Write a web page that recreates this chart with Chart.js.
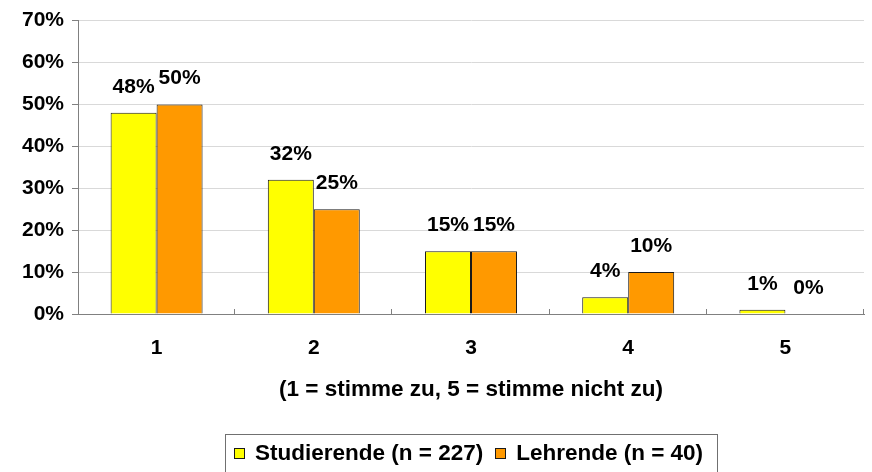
<!DOCTYPE html>
<html>
<head>
<meta charset="utf-8">
<script src="https://cdn.jsdelivr.net/npm/chart.js@4/dist/chart.umd.min.js"></script>
<style>
  html, body { margin: 0; padding: 0; background: #fff; }
  #wrap { width: 872px; height: 472px; position: relative; }
</style>
</head>
<body>
<div id="wrap"><canvas id="c"></canvas></div>
<script>
// Answers on a 1–5 agreement scale, share of respondents in percent
const categories = ['1', '2', '3', '4', '5'];
const studierende = [48, 32, 15, 4, 1];
const lehrende = [50, 25, 15, 10, 0];
const seriesNames = ['Studierende (n = 227)', 'Lehrende (n = 40)'];
const seriesColors = ['#FFFF00', '#FF9900'];
const yTicks = [0, 10, 20, 30, 40, 50, 60, 70];
const xTitle = '(1 = stimme zu, 5 = stimme nicht zu)';

const FONT = "'Liberation Sans', Arial, Helvetica, sans-serif";
const OUTLINE = '#1a1a1a';
Chart.defaults.font.family = FONT;
Chart.defaults.font.weight = 'bold';
Chart.defaults.color = '#000';

// Percent value above every bar
const valueLabels = {
  id: 'valueLabels',
  afterDatasetsDraw(chart) {
    const ctx = chart.ctx;
    ctx.save();
    ctx.font = `bold 21px ${FONT}`;
    ctx.fillStyle = '#000';
    ctx.textAlign = 'center';
    ctx.textBaseline = 'middle';
    chart.data.datasets.forEach((ds, i) => {
      chart.getDatasetMeta(i).data.forEach((bar, j) => {
        ctx.fillText(ds.data[j] + '%', bar.x, bar.y - 26);
      });
    });
    ctx.restore();
  }
};

// Short upward marks between the categories on the x axis
const categoryMarks = {
  id: 'categoryMarks',
  afterDraw(chart) {
    const x = chart.scales.x;
    const ctx = chart.ctx;
    const step = x.width / categories.length;
    ctx.save();
    ctx.strokeStyle = '#808080';
    ctx.lineWidth = 1;
    ctx.beginPath();
    for (let i = 1; i <= categories.length; i++) {
      const px = Math.round(x.left + i * step) - 0.5;
      ctx.moveTo(px, x.top);
      ctx.lineTo(px, x.top - 5);
    }
    ctx.stroke();
    ctx.restore();
  }
};

// Framed legend centred under the plot
const framedLegend = {
  id: 'framedLegend',
  afterDraw(chart) {
    const ctx = chart.ctx;
    const area = chart.chartArea;
    ctx.save();
    ctx.font = `bold 22.5px ${FONT}`;
    const box = 11, boxGap = 10, itemGap = 12;
    const widths = seriesNames.map(t => ctx.measureText(t).width);
    const total = widths.reduce((a, w) => a + box + boxGap + w, 0) + itemGap;
    const padL = 9, padR = 14;
    const frameW = Math.round(padL + total + padR);
    const frameX = Math.round((area.left + area.right) / 2 - frameW / 2);
    const frameY = 434;
    ctx.strokeStyle = '#707070';
    ctx.lineWidth = 1;
    ctx.strokeRect(frameX + 0.5, frameY + 0.5, frameW, 60);

    const cy = 453;
    let x = frameX + padL;
    ctx.textAlign = 'left';
    ctx.textBaseline = 'middle';
    seriesNames.forEach((name, i) => {
      const bx = Math.round(x);
      ctx.fillStyle = chart.data.datasets[i].backgroundColor;
      ctx.fillRect(bx, cy - 5, box, box);
      ctx.strokeStyle = OUTLINE;
      ctx.strokeRect(bx + 0.5, cy - 5 + 0.5, box - 1, box - 1);
      ctx.fillStyle = '#000';
      ctx.fillText(name, x + box + boxGap, cy + 1);
      x += box + boxGap + widths[i] + itemGap;
    });
    ctx.restore();
  }
};

new Chart(document.getElementById('c'), {
  type: 'bar',
  data: {
    labels: categories,
    datasets: [
      {
        label: seriesNames[0],
        data: studierende,
        backgroundColor: seriesColors[0],
        borderColor: OUTLINE,
        borderWidth: 1,
        categoryPercentage: 0.585,
        barPercentage: 1
      },
      {
        label: seriesNames[1],
        data: lehrende,
        backgroundColor: seriesColors[1],
        borderColor: OUTLINE,
        borderWidth: 1,
        categoryPercentage: 0.585,
        barPercentage: 1
      }
    ]
  },
  options: {
    responsive: true,
    maintainAspectRatio: false,
    animation: false,
    layout: { padding: { top: 20, right: 8, left: 0, bottom: 0 } },
    plugins: {
      legend: { display: false },
      tooltip: { enabled: false }
    },
    scales: {
      x: {
        grid: { display: false },
        border: { display: true, color: '#808080', width: 1 },
        ticks: { font: { size: 21, weight: 'bold' }, color: '#000', padding: 14 },
        title: {
          display: true,
          text: xTitle,
          color: '#000',
          font: { size: 22.5, weight: 'bold' },
          padding: { top: 0, bottom: 69 }
        },
        afterFit(scale) { scale.height = 158; }
      },
      y: {
        min: 0,
        max: 70,
        afterBuildTicks(scale) { scale.ticks = yTicks.map(v => ({ value: v })); },
        ticks: {
          callback: v => v + '%',
          font: { size: 21, weight: 'bold' },
          color: '#000',
          padding: 8
        },
        grid: { color: '#d9d9d9', tickColor: '#808080', tickLength: 6, lineWidth: 1 },
        border: { color: '#808080', width: 1 },
        afterFit(scale) { scale.width = 78; }
      }
    }
  },
  plugins: [valueLabels, categoryMarks, framedLegend]
});
</script>
</body>
</html>
